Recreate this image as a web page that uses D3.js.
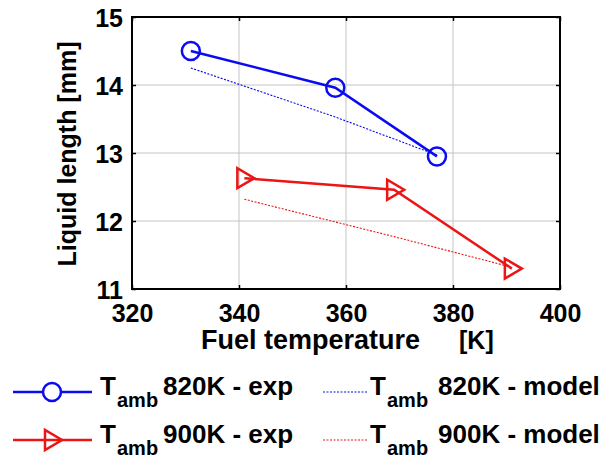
<!DOCTYPE html>
<html><head><meta charset="utf-8">
<script src="https://cdn.jsdelivr.net/npm/d3@7/dist/d3.min.js"></script>
<style>
body{margin:0;background:#fff}
text{font-family:"Liberation Sans",Arial,Helvetica,sans-serif;font-weight:bold;fill:#000}
</style>
</head><body>
<svg id="chart" width="606" height="461"></svg>
<script>
// ---- data ----
const xTicks = [320, 340, 360, 380, 400];
const yTicks = [11, 12, 13, 14, 15];
const exp820Temp = [331, 358, 377];
const exp820Len  = [14.50, 13.96, 12.95];
const mod820Temp = [331, 358, 377];
const mod820Len  = [14.25, 13.53, 12.97];
const exp900Temp = [341, 369, 391];
const exp900Len  = [12.63, 12.46, 11.30];
const mod900Temp = [341, 369, 390.5];
const mod900Len  = [12.32, 11.77, 11.33];
const legendLabels = ["820K - exp", "820K - model", "900K - exp", "900K - model"];
const xLabel = "Fuel temperature";
const xUnit = "[K]";
const yLabel = "Liquid length [mm]";

// ---- layout ----
const svg = d3.select("#chart");
const L = 132, R = 560, T = 17, B = 289;
const x = d3.scaleLinear().domain([320, 400]).range([L, R]);
const y = d3.scaleLinear().domain([11, 15]).range([B, T]);
const BLUE = "#0b0bf0", RED = "#ec1414";

// grid
const g = svg.append("g");
g.selectAll("line.gx").data(xTicks.slice(1, -1)).join("line")
  .attr("x1", d => x(d)).attr("x2", d => x(d)).attr("y1", T).attr("y2", B)
  .attr("stroke", "#c4c4c4").attr("stroke-width", 1);
g.selectAll("line.gy").data(yTicks.slice(1, -1)).join("line")
  .attr("y1", d => y(d)).attr("y2", d => y(d)).attr("x1", L).attr("x2", R)
  .attr("stroke", "#c4c4c4").attr("stroke-width", 1);

// axes
const axB = d3.axisBottom(x).tickValues(xTicks).tickSize(-4).tickPadding(16).tickFormat(d3.format("d"));
const axL = d3.axisLeft(y).tickValues(yTicks).tickSize(-4).tickPadding(9).tickFormat(d3.format("d"));
const axT = d3.axisTop(x).tickValues(xTicks).tickSize(-4).tickFormat("");
const axR = d3.axisRight(y).tickValues(yTicks).tickSize(-4).tickFormat("");
const gb = svg.append("g").attr("transform", `translate(0,${B})`).call(axB);
const gl = svg.append("g").attr("transform", `translate(${L},0)`).call(axL);
svg.append("g").attr("transform", `translate(0,${T})`).call(axT);
svg.append("g").attr("transform", `translate(${R},0)`).call(axR);
svg.selectAll(".domain").remove();
svg.selectAll(".tick line").attr("stroke", "#000").attr("stroke-width", 1.5);
gb.selectAll("text").attr("font-size", 25).attr("dy", "0.68em").attr("fill", "#000")
  .style("font-family", "'Liberation Sans',Arial,sans-serif").style("font-weight", "bold");
gl.selectAll("text").attr("font-size", 25).attr("dy", "0.38em").attr("fill", "#000")
  .style("font-family", "'Liberation Sans',Arial,sans-serif").style("font-weight", "bold");
svg.append("rect").attr("x", L).attr("y", T).attr("width", R - L).attr("height", B - T)
  .attr("fill", "none").attr("stroke", "#000").attr("stroke-width", 2);

// axis labels
svg.append("text").attr("x", 201).attr("y", 349).attr("font-size", 27).text(xLabel);
svg.append("text").attr("x", 459).attr("y", 349).attr("font-size", 25).text(xUnit);
svg.append("text").attr("transform", "translate(76,154) rotate(-90)")
  .attr("text-anchor", "middle").attr("font-size", 25).text(yLabel);

// series
const line = d3.line().x(d => x(d[0])).y(d => y(d[1]));
const zip = (a, b) => a.map((v, i) => [v, b[i]]);
const triPath = "M-7,-10L-7,10L10,0Z";

svg.append("path").datum(zip(mod820Temp, mod820Len)).attr("d", line)
  .attr("fill", "none").attr("stroke", BLUE).attr("stroke-width", 1.1).attr("stroke-dasharray", "2,1.5");
svg.append("path").datum(zip(mod900Temp, mod900Len)).attr("d", line)
  .attr("fill", "none").attr("stroke", RED).attr("stroke-width", 1.1).attr("stroke-dasharray", "2,1.5");

svg.append("path").datum(zip(exp820Temp, exp820Len)).attr("d", line)
  .attr("fill", "none").attr("stroke", BLUE).attr("stroke-width", 2.5);
svg.selectAll("circle.m820").data(zip(exp820Temp, exp820Len)).join("circle")
  .attr("cx", d => x(d[0])).attr("cy", d => y(d[1])).attr("r", 9)
  .attr("fill", "none").attr("stroke", BLUE).attr("stroke-width", 2.5);

svg.append("path").datum(zip(exp900Temp, exp900Len)).attr("d", line)
  .attr("fill", "none").attr("stroke", RED).attr("stroke-width", 2.5);
svg.selectAll("path.m900").data(zip(exp900Temp, exp900Len)).join("path")
  .attr("d", triPath).attr("transform", d => `translate(${x(d[0])},${y(d[1])})`)
  .attr("fill", "none").attr("stroke", RED).attr("stroke-width", 2.5);

// legend
const leg = svg.append("g");
const rows = [392, 440];
const cols = [{lx1: 13, lx2: 92, tx: 100, sx: 117, rx: 163},
              {lx1: 323, lx2: 367, tx: 370, sx: 387, rx: 438}];
legendLabels.forEach((lab, i) => {
  const c = cols[i % 2], ry = rows[Math.floor(i / 2)];
  const color = i < 2 ? BLUE : RED;
  const isExp = i % 2 === 0;
  leg.append("line").attr("x1", c.lx1).attr("x2", c.lx2).attr("y1", ry).attr("y2", ry)
    .attr("stroke", color).attr("stroke-width", isExp ? 2.5 : 1.1)
    .attr("stroke-dasharray", isExp ? null : "2,1.5");
  if (isExp) {
    if (i < 2) leg.append("circle").attr("cx", 52).attr("cy", ry).attr("r", 9)
      .attr("fill", "#fff").attr("stroke", color).attr("stroke-width", 2.5);
    else leg.append("path").attr("d", triPath).attr("transform", `translate(52,${ry})`)
      .attr("fill", "none").attr("stroke", color).attr("stroke-width", 2.5);
  }
  const t = leg.append("text").attr("font-size", 26);
  t.append("tspan").attr("x", c.tx).attr("y", ry + 3).text("T");
  t.append("tspan").attr("x", c.sx).attr("y", ry + 15).attr("font-size", 20).text("amb");
  t.append("tspan").attr("x", c.rx).attr("y", ry + 3).text(lab);
});
</script>
</body></html>
